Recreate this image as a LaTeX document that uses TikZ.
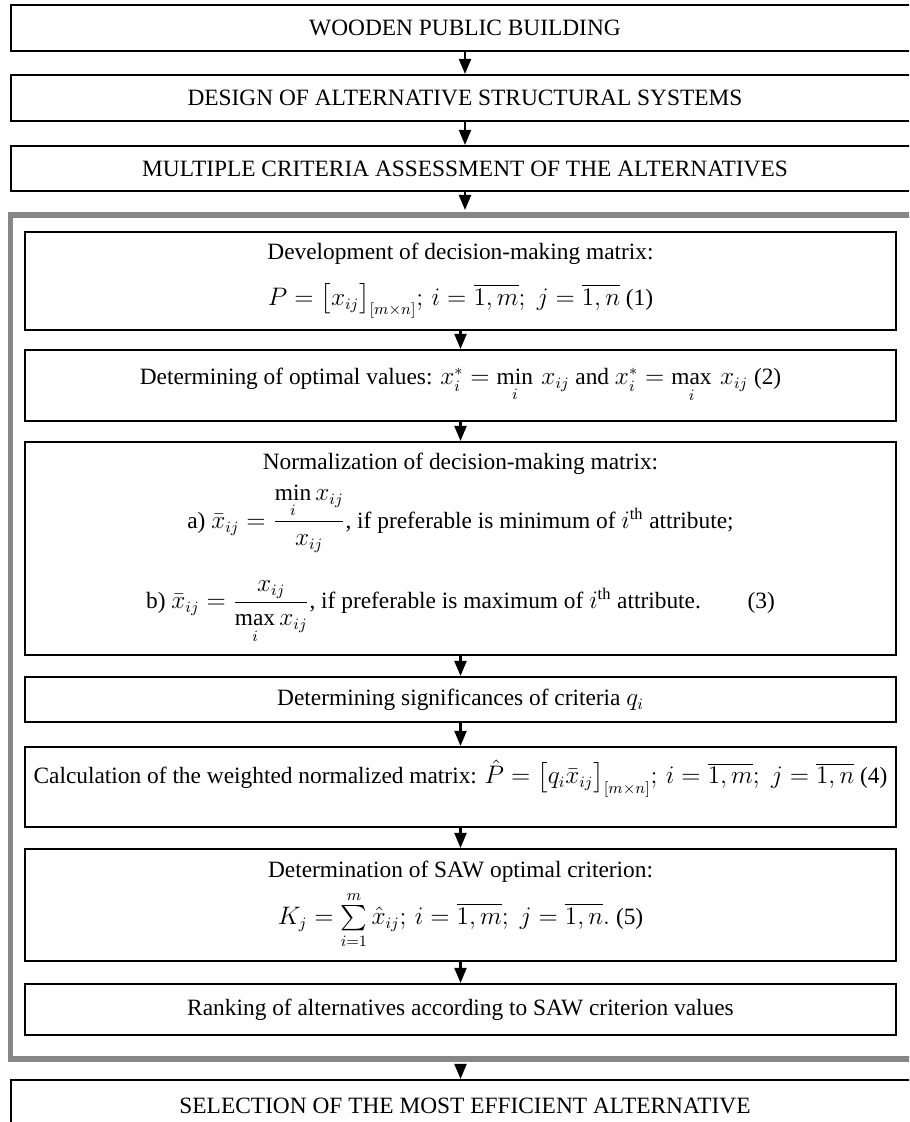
\documentclass[tikz,border=0pt]{standalone}
\usepackage{amsmath}
\usepackage{fontspec}
\setmainfont{Liberation Serif}
\usepackage{tikz}
\usetikzlibrary{arrows.meta, positioning, calc}
\definecolor{framegray}{HTML}{878787}

\begin{document}
\begin{tikzpicture}[
      every node/.style={font=\fontsize{13.3}{16}\selectfont},
      stage/.style={draw=black, line width=1.2pt, minimum width=18.16cm,
                    minimum height=0.92cm, inner sep=2pt},
      stepbox/.style={draw=black, line width=1.2pt, minimum width=17.42cm,
                      align=center, inner sep=2pt},
      mcabox/.style={draw=framegray, line width=2.9pt, minimum width=18.49cm,
                     minimum height=16.88cm},
      arr/.style={-{Triangle[length=0.3cm, width=0.24cm]}, line width=1.2pt},
    ]
    \useasboundingbox (0,0) rectangle (18.18,-22.44);
    \clip (0,0) rectangle (18.18,-22.44);

    \node[stage] (wood)   at (9.30,-0.56) {WOODEN PUBLIC BUILDING};
    \node[stage] (design) at (9.30,-1.96) {DESIGN OF ALTERNATIVE STRUCTURAL SYSTEMS};
    \node[stage, minimum height=0.90cm] (mca) at (9.30,-3.37) {MULTIPLE CRITERIA ASSESSMENT OF THE ALTERNATIVES};

    % grey frame round the SAW steps
    \node[mcabox] (saw) at (9.455,-12.74) {};

    \node[stepbox, minimum height=1.96cm] (matrix) at (9.21,-5.62)
      {Development of decision-making matrix:\\[10pt]
       $P=\bigl[x_{ij}\bigr]_{[m\times n]};\, i=\overline{1,m};\; j=\overline{1,n}$ (1)};
    \node[stepbox, minimum height=1.42cm] (optimal) at (9.21,-7.71)
      {Determining of optimal values: $x_i^{*}=\min\limits_{i}\, x_{ij}$ and $x_i^{*}=\max\limits_{i}\, x_{ij}$ (2)};
    \node[stepbox, minimum height=4.26cm] (norm) at (9.21,-10.97)
      {Normalization of decision-making matrix:\\[5pt]
       a) $\bar{x}_{ij}=\dfrac{\min\limits_{i} x_{ij}}{x_{ij}}$, if preferable is minimum of $i$\textsuperscript{th} attribute;\\[15pt]
       b) $\bar{x}_{ij}=\dfrac{x_{ij}}{\max\limits_{i} x_{ij}}$, if preferable is maximum of $i$\textsuperscript{th} attribute.\qquad(3)};
    \node[stepbox, minimum height=0.90cm] (signif) at (9.21,-13.99)
      {Determining significances of criteria $q_i$};
    \node[stepbox, minimum height=1.60cm, text depth=0.6cm] (weighted) at (9.21,-15.74)
      {Calculation of the weighted normalized matrix: $\hat{P}=\bigl[q_i\bar{x}_{ij}\bigr]_{[m\times n]};\, i=\overline{1,m};\; j=\overline{1,n}$ (4)};
    \node[stepbox, minimum height=2.24cm] (crit) at (9.21,-18.10)
      {Determination of SAW optimal criterion:\\[4pt]
       $K_j=\sum\limits_{i=1}^{m}\hat{x}_{ij};\, i=\overline{1,m};\; j=\overline{1,n}.$ (5)};
    \node[stepbox, minimum height=1.02cm] (rank) at (9.21,-20.19)
      {Ranking of alternatives according to SAW criterion values};

    \node[stage, minimum height=1.04cm] (select) at (9.30,-22.12) {SELECTION OF THE MOST EFFICIENT ALTERNATIVE};

    \draw[arr] (wood.south) -- (design.north);
    \draw[arr] (design.south) -- (mca.north);
    \draw[arr, shorten >=1.4pt] (mca.south) -- (mca.south |- saw.north);

    \draw[arr] (matrix.south) -- (optimal.north);
    \draw[arr] (optimal.south) -- (norm.north);
    \draw[arr] (norm.south) -- (signif.north);
    \draw[arr] (signif.south) -- (weighted.north);
    \draw[arr] (weighted.south) -- (crit.north);
    \draw[arr] (crit.south) -- (rank.north);

    \draw[arr, shorten <=1.4pt] (rank.south |- saw.south) -- (rank.south |- select.north);
    \end{tikzpicture}
\end{document}
